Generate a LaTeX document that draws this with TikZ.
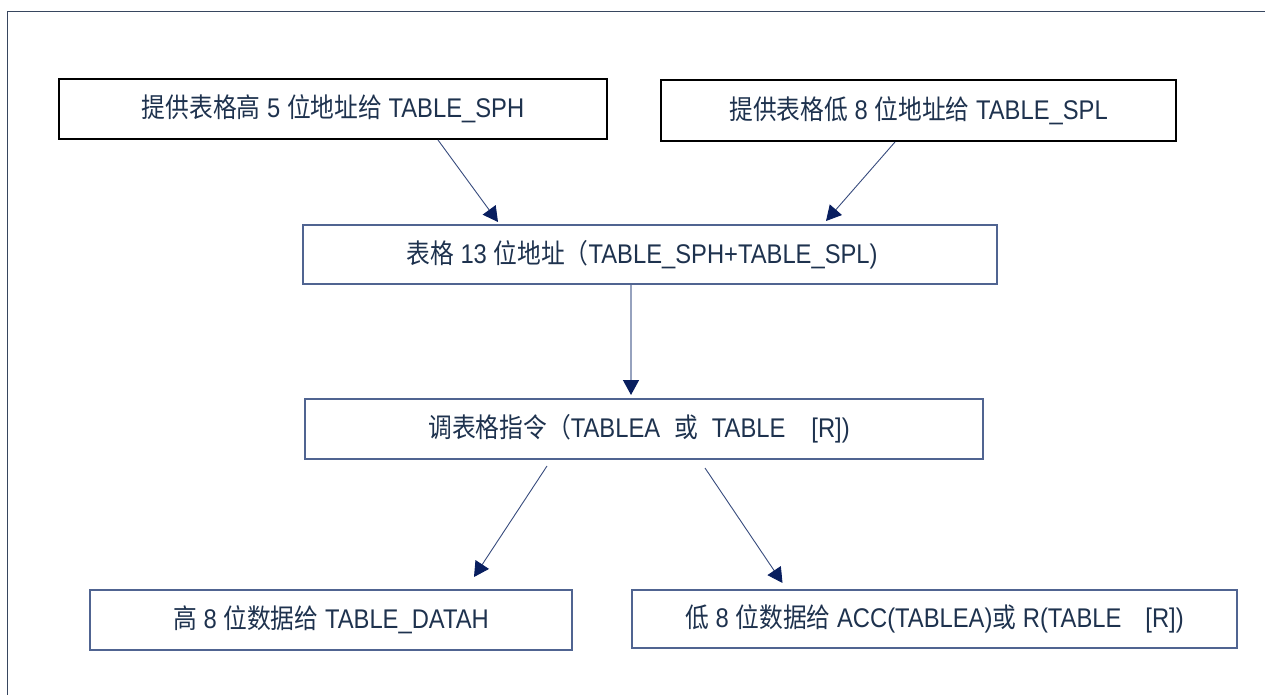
\documentclass[tikz,border=0pt]{standalone}
\usepackage{fontspec}
\setmainfont{Liberation Sans}[FakeStretch=0.88]
\newfontfamily\cjkfont{Noto Sans CJK SC}[FakeStretch=0.88]
\newcommand\zhs[1]{{\cjkfont #1}}
\usetikzlibrary{arrows.meta}
\definecolor{txtcol}{RGB}{30,50,78}
\definecolor{boxblue}{RGB}{80,100,145}
\definecolor{linecol}{RGB}{55,75,125}
\definecolor{headcol}{RGB}{8,30,95}
\definecolor{framecol}{RGB}{55,70,95}
\tikzset{
  base/.style={rectangle, inner sep=0pt, text=txtcol, font=\fontsize{27}{30}\selectfont},
  blackbox/.style={base, draw=black, line width=2pt},
  bluebox/.style={base, draw=boxblue, line width=1.3pt},
  conn/.style={draw=linecol, line width=0.9pt, -{Triangle[width=16pt,length=15pt,fill=headcol,color=headcol]}},
}
\begin{document}
\begin{tikzpicture}[x=1pt,y=-1pt]
\useasboundingbox (0,0) rectangle (1265,695);
\draw[framecol, line width=1pt] (7,700) -- (7,12) -- (1270,12);
\node[blackbox, minimum width=548pt, minimum height=60pt] (b1) at (333,109)
  {\zhs{提供表格高} 5 \zhs{位地址给} TABLE\_SPH};
\node[blackbox, minimum width=515pt, minimum height=61pt] (b2) at (918.5,110.5)
  {\zhs{提供表格低} 8 \zhs{位地址给} TABLE\_SPL};
\node[bluebox, minimum width=694pt, minimum height=59pt] (b3) at (650,254.5)
  {\zhs{表格} 13 \zhs{位地址（}TABLE\_SPH+TABLE\_SPL)\hspace*{16pt}};
\node[bluebox, minimum width=678pt, minimum height=60pt] (b4) at (644,429)
  {\zhs{调表格指令（}TABLEA\hspace{14pt}\zhs{或}\hspace{14pt}TABLE\hspace{26pt}[R])\hspace*{10pt}};
\node[bluebox, minimum width=482pt, minimum height=60pt] (b5) at (331,620)
  {\zhs{高} 8 \zhs{位数据给} TABLE\_DATAH};
\node[bluebox, minimum width=605pt, minimum height=58pt] (b6) at (934.5,619)
  {\zhs{低} 8 \zhs{位数据给} ACC(TABLEA)\zhs{或} R(TABLE\hspace{24pt}[R])};
\coordinate (a1s) at (438,140);
\coordinate (a1e) at (498,222);
\coordinate (a2s) at (895,142);
\coordinate (a2e) at (826,221);
\coordinate (a3s) at (631,285);
\coordinate (a3e) at (631,395);
\coordinate (a4s) at (547,466);
\coordinate (a4e) at (474,577);
\coordinate (a5s) at (705,468);
\coordinate (a5e) at (782.5,583);
\draw[conn] (a1s) -- (a1e);
\draw[conn] (a2s) -- (a2e);
\draw[conn, draw={rgb,255:red,150;green,162;blue,190}, line width=1.4pt] (a3s) -- (a3e);
\draw[conn] (a4s) -- (a4e);
\draw[conn] (a5s) -- (a5e);
\end{tikzpicture}
\end{document}
